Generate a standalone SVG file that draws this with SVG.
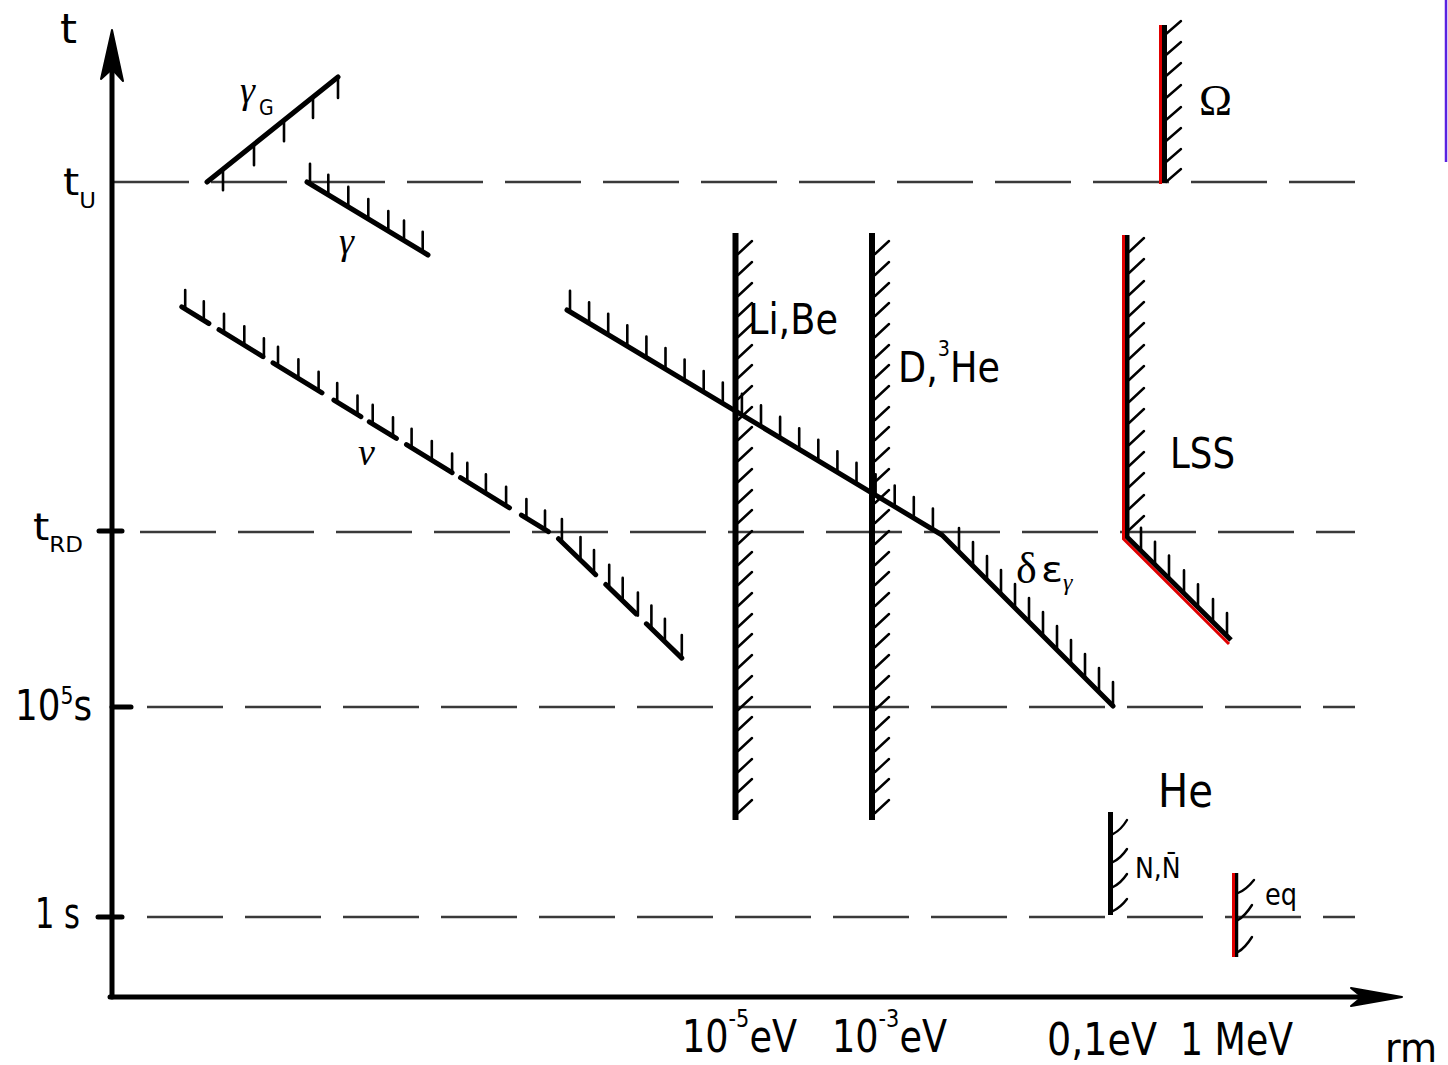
<svg xmlns="http://www.w3.org/2000/svg" width="1448" height="1065" viewBox="0 0 1448 1065">
<style>
.ax{stroke:#000;stroke-width:5;fill:none;stroke-linecap:round}
.ln{stroke:#000;stroke-width:5;fill:none;stroke-linecap:round;stroke-linejoin:round}
.vl{stroke:#000;stroke-width:6;fill:none}
.tk{stroke:#000;stroke-width:2.6;fill:none;stroke-linecap:round}
.ht{stroke:#000;stroke-width:2.4;fill:none;stroke-linecap:round}
.red{stroke:#e00000;stroke-width:3;fill:none}
.dash{stroke:#3a3a3a;stroke-width:2.4;fill:none;stroke-dasharray:76 22}
.lb{font-family:"DejaVu Sans Condensed","DejaVu Sans","Liberation Sans",sans-serif;fill:#000}
.gr{font-family:"Liberation Serif","DejaVu Serif",serif;font-style:italic;fill:#000}
.sr{font-family:"Liberation Serif","DejaVu Serif",serif;fill:#000}
</style>
<rect x="0" y="0" width="1448" height="1065" fill="#fff"/>
<g id="dashed-levels">
<line class="dash" x1="113" y1="182" x2="1355" y2="182"/>
<line class="dash" x1="140" y1="532" x2="1355" y2="532"/>
<line class="dash" x1="147" y1="707" x2="1355" y2="707"/>
<line class="dash" x1="147" y1="917" x2="1355" y2="917"/>
</g>
<g id="axes">
<line class="ax" x1="112" y1="60" x2="112" y2="997"/>
<line class="ax" x1="110" y1="997" x2="1370" y2="997"/>
<path d="M112 30 L101 79 L112 69 L123 81 Z" fill="#000" stroke="#000" stroke-width="2" stroke-linejoin="round"/>
<path d="M1402 997 L1351 988 L1362 997 L1351 1006 Z" fill="#000" stroke="#000" stroke-width="2" stroke-linejoin="round"/>
<line class="ax" x1="99" y1="531" x2="122" y2="531"/>
<line class="ax" x1="112" y1="707" x2="131" y2="707"/>
<line class="ax" x1="98" y1="917" x2="122" y2="917"/>
</g>
<g id="axis-labels">
<text class="lb" x="60" y="43" font-size="40" textLength="17" lengthAdjust="spacingAndGlyphs">t</text>
<text class="lb" x="63" y="195" font-size="38" textLength="33" lengthAdjust="spacingAndGlyphs">t<tspan font-size="21" dy="13">U</tspan></text>
<text class="lb" x="33" y="540" font-size="38" textLength="50" lengthAdjust="spacingAndGlyphs">t<tspan font-size="21" dy="12">RD</tspan></text>
<text class="lb" x="15" y="720" font-size="42" textLength="77" lengthAdjust="spacingAndGlyphs">10<tspan font-size="24" dy="-16">5</tspan><tspan dy="16">s</tspan></text>
<text class="lb" x="35" y="928" font-size="42" textLength="45" lengthAdjust="spacingAndGlyphs">1 s</text>
<text class="lb" x="682" y="1052" font-size="44" textLength="115" lengthAdjust="spacingAndGlyphs">10<tspan font-size="25" dy="-25">-5</tspan><tspan dy="25">eV</tspan></text>
<text class="lb" x="832" y="1052" font-size="44" textLength="115" lengthAdjust="spacingAndGlyphs">10<tspan font-size="25" dy="-25">-3</tspan><tspan dy="25">eV</tspan></text>
<text class="lb" x="1047" y="1055" font-size="44" textLength="110" lengthAdjust="spacingAndGlyphs">0,1eV</text>
<text class="lb" x="1180" y="1055" font-size="44" textLength="113" lengthAdjust="spacingAndGlyphs">1 MeV</text>
<text class="lb" x="1385" y="1062" font-size="40" textLength="52" lengthAdjust="spacingAndGlyphs">rm</text>
</g>
<g id="gammaG">
<line class="ln" x1="207" y1="182" x2="338" y2="77"/>
<path class="tk" d="M223 169.2v21M254 144.3v21M284 120.3v21M313 97v21M338 77v21"/>
<text class="gr" x="240" y="103" font-size="38">γ</text>
<text class="lb" x="259" y="115" font-size="21">G</text>
</g>
<g id="gamma">
<line class="ln" x1="307" y1="182" x2="428" y2="255"/>
<path class="tk" d="M310 183.8v-20M328.3 194.8v-20M348.3 206.9v-20M368.3 219v-20M388.3 231v-20M404 240.5v-20M422.7 251.8v-20"/>
<text class="gr" x="339" y="254" font-size="38">γ</text>
</g>
<g id="nu">
<path class="ln" d="M181.8 306.9L208.9 323.5M219 329.7L262.9 356.6M273 362.8L322 392.8M333.9 400.1L360.9 416.7M369.3 421.8L396.4 438.4M406.5 444.6L452.1 472.6M460.5 477.7L509.5 507.8M521.4 515.1L548.4 531.7M558.5 538.7L595.7 574.7M605.8 584.5L636.2 613.9M646.4 623.8L681.8 658.1"/>
<path class="tk" d="M185.2 309v-19M203.8 320.4v-19M224 332.7v-19M244.3 345.2v-19M263.9 357.2v-19M278 365.8v-19M298.4 378.4v-19M318.6 390.7v-19M337.2 402.1v-19M357.5 414.6v-19M372.7 423.9v-19M393 436.3v-19M411.6 447.7v-19M431.8 460.1v-19M452.1 472.6v-19M467.3 481.9v-19M485.9 493.3v-19M506.1 505.7v-19M526.4 518.1v-19M545 529.5v-19M561.9 542v-23M580.5 560v-23M594 573.1v-23M609.2 587.8v-23M622.7 600.9v-23M637.9 615.6v-23M651.4 628.6v-23M664.9 641.7v-23M681.8 658.1v-23"/>
<text class="gr" x="358" y="465" font-size="38">ν</text>
</g>
<g id="delta-eps">
<path class="ln" d="M567 310L942 535L1113 706"/>
<path class="tk" d="M570 311.8v-21M589.1 323.3v-21M608.2 334.7v-21M627.3 346.2v-21M646.4 357.6v-21M665.5 369.1v-21M684.6 380.6v-21M703.7 392v-21M722.8 403.5v-21M741.9 414.9v-21M761 426.4v-21M780.1 437.9v-21M799.2 449.3v-21M818.3 460.8v-21M837.4 472.2v-21M856.5 483.7v-21M875.6 495.2v-21M894.7 506.6v-21M913.8 518.1v-21M932.9 529.5v-21M959 552v-24M973 566v-24M987 580v-24M1001 594v-24M1015 608v-24M1029 622v-24M1043 636v-24M1057 650v-24M1071 664v-24M1085 678v-24M1099 692v-24M1113 706v-24"/>
<text class="sr" x="1016" y="583" font-size="44">δ</text>
<text class="lb" x="1041" y="582" font-size="36" textLength="22" lengthAdjust="spacingAndGlyphs">ε</text>
<text class="gr" x="1063" y="590" font-size="24">γ</text>
</g>
<g id="LiBe">
<line class="vl" x1="735.5" y1="233" x2="735.5" y2="820"/>
<path class="ht" d="M738 813l14 -13M738 792l14 -13M738 772l14 -13M738 751l14 -13M738 730l14 -13M738 710l14 -13M738 689l14 -13M738 668l14 -13M738 647l14 -13M738 627l14 -13M738 606l14 -13M738 585l14 -13M738 565l14 -13M738 544l14 -13M738 523l14 -13M738 503l14 -13M738 482l14 -13M738 461l14 -13M738 440l14 -13M738 420l14 -13M738 399l14 -13M738 378l14 -13M738 358l14 -13M738 337l14 -13M738 316l14 -13M738 296l14 -13M738 275l14 -13M738 254l14 -13"/>
<text class="lb" x="748" y="334" font-size="42" textLength="90" lengthAdjust="spacingAndGlyphs">Li,Be</text>
</g>
<g id="D3He">
<line class="vl" x1="872" y1="233" x2="872" y2="820"/>
<path class="ht" d="M875 813l14 -13M875 792l14 -13M875 772l14 -13M875 751l14 -13M875 730l14 -13M875 710l14 -13M875 689l14 -13M875 668l14 -13M875 647l14 -13M875 627l14 -13M875 606l14 -13M875 585l14 -13M875 565l14 -13M875 544l14 -13M875 523l14 -13M875 503l14 -13M875 482l14 -13M875 461l14 -13M875 440l14 -13M875 420l14 -13M875 399l14 -13M875 378l14 -13M875 358l14 -13M875 337l14 -13M875 316l14 -13M875 296l14 -13M875 275l14 -13M875 254l14 -13"/>
<text class="lb" x="898" y="382" font-size="42" textLength="102" lengthAdjust="spacingAndGlyphs">D,<tspan font-size="22" dy="-26">3</tspan><tspan dy="26">He</tspan></text>
</g>
<g id="Omega">
<line x1="1164.5" y1="25" x2="1164.5" y2="183" stroke="#000" stroke-width="5"/>
<line class="red" x1="1160.5" y1="25" x2="1160.5" y2="184"/>
<path class="ht" d="M1166 182l15 -13M1166 162l15 -13M1166 141l15 -13M1166 120l15 -13M1166 98l15 -13M1166 76l15 -13M1166 55l15 -13M1166 34l15 -13"/>
<text class="sr" x="1199" y="115" font-size="44" textLength="33" lengthAdjust="spacingAndGlyphs">Ω</text>
</g>
<g id="LSS">
<path d="M1127 235L1127 537L1231 640" stroke="#000" stroke-width="5" fill="none" stroke-linejoin="round"/>
<path class="red" d="M1123.5 235L1123.5 539L1229 644"/>
<path class="ht" d="M1129 530l15 -14M1129 509l15 -14M1129 487l15 -14M1129 466l15 -14M1129 445l15 -14M1129 423l15 -14M1129 402l15 -14M1129 380l15 -14M1129 359l15 -14M1129 337l15 -14M1129 316l15 -14M1129 295l15 -14M1129 273l15 -14M1129 252l15 -14"/>
<path class="tk" d="M1141 550.9v-23M1155 564.7v-23M1169 578.6v-23M1184 593.4v-23M1198 607.3v-23M1213 622.1v-23M1227 636v-23"/>
<text class="lb" x="1170" y="468" font-size="42" textLength="65" lengthAdjust="spacingAndGlyphs">LSS</text>
</g>
<g id="He">
<text class="lb" x="1158" y="807" font-size="46" textLength="55" lengthAdjust="spacingAndGlyphs">He</text>
</g>
<g id="NNbar">
<line x1="1110.5" y1="812" x2="1110.5" y2="915" stroke="#000" stroke-width="5"/>
<path class="ht" d="M1113 834q8 -4 14 -14M1113 862q8 -4 14 -13M1113 887q8 -4 14 -13M1113 911q8 -4 14 -12"/>
<text class="lb" x="1135" y="878" font-size="28">N,N̄</text>
</g>
<g id="eq">
<line x1="1236.5" y1="873" x2="1236.5" y2="957" stroke="#000" stroke-width="3.5"/>
<line class="red" x1="1233.5" y1="873" x2="1233.5" y2="957"/>
<path class="ht" d="M1238 893q8 -3 16 -13M1238 920q7 -4 14 -15M1238 952q7 -4 14 -15"/>
<text class="lb" x="1265" y="905" font-size="30" textLength="32" lengthAdjust="spacingAndGlyphs">eq</text>
</g>
<line x1="1446" y1="0" x2="1446" y2="162" stroke="#5a22e0" stroke-width="2.5"/>
</svg>
